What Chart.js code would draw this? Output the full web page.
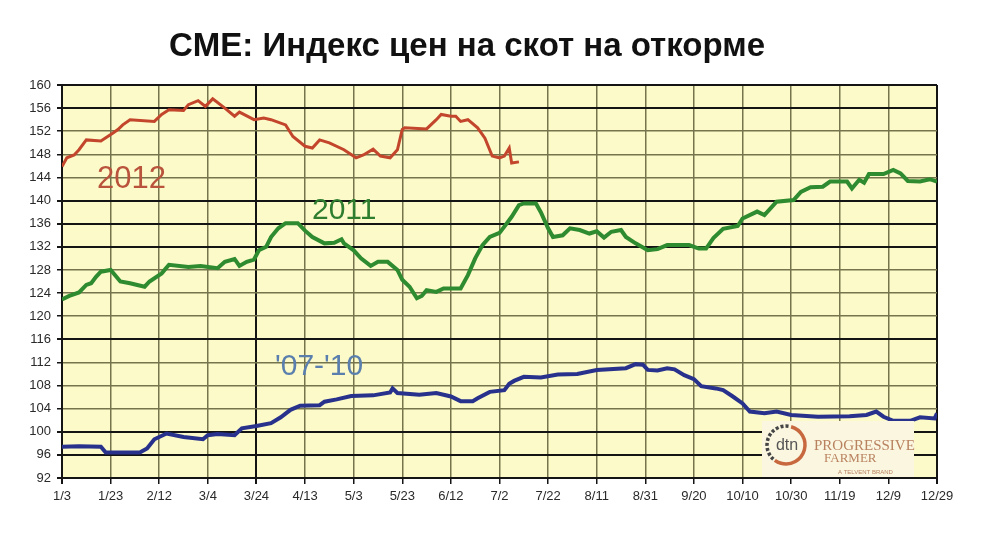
<!DOCTYPE html>
<html><head><meta charset="utf-8">
<script src="https://cdn.jsdelivr.net/npm/chart.js@4"></script>
<style>html,body{margin:0;padding:0;background:#fff;}</style>
</head><body>
<canvas id="c" width="990" height="550"></canvas>
<script>
const TITLE = 'CME: Индекс цен на скот на откорме';
const xTickLabels = ['1/3','1/23','2/12','3/4','3/24','4/13','5/3','5/23','6/12','7/2','7/22','8/11','8/31','9/20','10/10','10/30','11/19','12/9','12/29'];
const yTickValues = [92,96,100,104,108,112,116,120,124,128,132,136,140,144,148,152,156,160];
const seriesNames = ['2012','2011',"'07-'10"];

const days2012 = [0,2,5,7,10,16,21,23,25,28,38,41,44,50,52,56,59,62,67,71,73,79,83,86,92,95,100,103,106,110,116,121,124,128,131,135,138,140,141,150,154,156,160,162,164,167,171,174,177,180,182,184,185,188];
const vals2012 = [145.9,147.4,147.9,148.8,150.5,150.3,151.7,152.3,153.1,154.0,153.7,154.9,155.7,155.6,156.6,157.3,156.3,157.6,156.0,154.6,155.3,154.0,154.3,154.0,153.1,151.1,149.4,149.1,150.5,150.0,148.8,147.4,147.9,148.9,147.7,147.4,148.8,152.3,152.6,152.4,154.0,154.9,154.6,154.6,153.7,154.0,152.6,150.8,147.7,147.4,147.7,149.1,146.5,146.7];

const days2011 = [0,3,7,10,12,14,16,20,21,24,28,31,34,36,41,44,52,57,64,67,71,73,76,79,81,84,86,89,92,97,100,103,108,112,115,116,120,123,127,130,134,138,140,143,146,148,150,154,157,164,167,170,173,176,180,182,185,188,190,195,197,200,202,206,209,213,217,220,223,226,230,232,236,241,245,249,258,262,265,268,272,278,280,286,289,294,301,304,308,313,316,323,325,328,330,332,338,342,345,348,353,357,360];
const vals2011 = [122.9,123.5,124.1,125.4,125.7,126.8,127.7,128.0,127.5,126.0,125.7,125.4,125.1,126.0,127.4,128.9,128.5,128.7,128.3,129.4,129.9,128.7,129.4,129.8,131.4,132.0,133.7,135.2,136.1,136.1,134.8,133.7,132.6,132.7,133.3,132.6,131.4,130.0,128.7,129.4,129.4,128.0,126.3,125.1,123.1,123.5,124.5,124.2,124.8,124.8,127.1,130.0,132.3,133.7,134.4,135.5,137.2,139.2,139.5,139.5,138.0,135.2,133.7,134.0,135.2,134.9,134.3,134.7,133.6,134.6,134.9,133.7,132.6,131.4,131.6,132.3,132.3,131.7,131.7,133.5,135.1,135.6,136.9,138.1,137.5,139.8,140.1,141.5,142.3,142.4,143.3,143.3,142.1,143.6,143.1,144.6,144.6,145.3,144.7,143.4,143.3,143.7,143.3];

const daysAvg = [0,7,16,18,32,35,38,43,50,58,60,64,71,74,80,86,90,94,98,106,108,113,119,128,135,136,138,147,154,160,164,169,171,176,182,184,186,190,197,204,212,220,232,236,239,241,245,249,252,256,260,263,269,272,276,280,283,289,294,300,311,324,331,335,338,342,349,353,359,360];
const valsAvg = [97.4,97.5,97.4,96.4,96.4,97.1,98.7,99.7,99.1,98.7,99.4,99.6,99.4,100.6,101.0,101.5,102.5,103.8,104.5,104.6,105.2,105.6,106.2,106.3,106.8,107.5,106.7,106.4,106.7,106.1,105.3,105.3,105.8,106.9,107.2,108.3,108.8,109.5,109.4,109.9,110.0,110.7,111.0,111.7,111.6,110.7,110.6,111.0,110.8,109.8,109.1,107.9,107.5,107.2,106.1,104.9,103.5,103.2,103.5,102.9,102.6,102.7,102.9,103.5,102.6,101.9,101.9,102.5,102.3,103.2];

const toPts = (d, v) => d.map((x, i) => ({x: x, y: v[i]}));

const darkY = new Set([160,156,140,136,132,116,100,96,92]);
const darkX = new Set([0,80,360]);
const BLACK = '#141414', OLIVE = '#75744c';

const bgPlugin = {
  id: 'bg',
  beforeDraw(chart) {
    const {ctx, chartArea: a} = chart;
    ctx.save();
    ctx.fillStyle = '#ffffff';
    ctx.fillRect(0, 0, chart.width, chart.height);
    ctx.fillStyle = '#fcfac8';
    ctx.fillRect(a.left, a.top, a.right - a.left, a.bottom - a.top);
    ctx.restore();
  }
};

const textPlugin = {
  id: 'texts',
  afterDatasetsDraw(chart) {
    const ctx = chart.ctx;
    ctx.save();
    // logo
    ctx.fillStyle = '#faf6e0';
    ctx.fillRect(762, 421, 152, 56);
    ctx.strokeStyle = '#c8683e';
    ctx.lineWidth = 3.5;
    ctx.beginPath(); ctx.arc(786, 445, 19, -1.3, 2.2); ctx.stroke();
    ctx.strokeStyle = '#444';
    ctx.setLineDash([3, 2]);
    ctx.beginPath(); ctx.arc(786, 445, 19, 2.3, 4.9); ctx.stroke();
    ctx.setLineDash([]);
    ctx.fillStyle = '#555';
    ctx.font = '16px "Liberation Sans", Arial, sans-serif';
    ctx.textAlign = 'center'; ctx.textBaseline = 'middle';
    ctx.fillText('dtn', 787, 446);
    ctx.textAlign = 'left'; ctx.textBaseline = 'alphabetic';
    ctx.fillStyle = '#b9825f';
    ctx.font = '15px "Liberation Serif", serif';
    ctx.fillText('PROGRESSIVE', 814, 450);
    ctx.font = '13px "Liberation Serif", serif';
    ctx.fillText('FARMER', 824, 462);
    ctx.font = '6px "Liberation Sans", Arial, sans-serif';
    ctx.fillText('A TELVENT BRAND', 838, 474);

    // series labels
    ctx.font = '31px "Liberation Sans", Arial, sans-serif';
    ctx.fillStyle = '#b9533b';
    ctx.fillText(seriesNames[0], 97, 188);
    ctx.font = '30px "Liberation Sans", Arial, sans-serif';
    ctx.fillStyle = '#2f7d2f';
    ctx.fillText(seriesNames[1], 312, 219);
    ctx.fillStyle = '#5a7fae';
    ctx.fillText(seriesNames[2], 275, 375);

    // title
    ctx.fillStyle = '#111';
    ctx.font = 'bold 33px "Liberation Sans", Arial, sans-serif';
    ctx.textAlign = 'center'; ctx.textBaseline = 'middle';
    ctx.fillText(TITLE, 467, 47);
    ctx.restore();
  }
};

new Chart(document.getElementById('c'), {
  type: 'line',
  data: {
    datasets: [
      {label: seriesNames[0], data: toPts(days2012, vals2012), borderColor: '#c2452c', borderWidth: 3},
      {label: seriesNames[1], data: toPts(days2011, vals2011), borderColor: '#2f8b2f', borderWidth: 4},
      {label: seriesNames[2], data: toPts(daysAvg, valsAvg), borderColor: '#28328c', borderWidth: 4}
    ]
  },
  options: {
    responsive: false,
    animation: false,
    devicePixelRatio: 1,
    elements: {point: {radius: 0}, line: {tension: 0}},
    layout: {padding: {left: 0, top: 85, right: 53, bottom: 32}},
    plugins: {legend: {display: false}, title: {display: false}, tooltip: {enabled: false}},
    scales: {
      x: {
        type: 'linear', min: 0, max: 360,
        afterBuildTicks(s) { s.ticks = xTickLabels.map((_, i) => ({value: i * 20})); },
        afterFit(s) { s.height = 40; s.paddingLeft = 0; s.paddingRight = 0; },
        ticks: {
          autoSkip: false, maxRotation: 0, padding: 5,
          callback: (v) => xTickLabels[Math.round(v / 20)],
          color: '#2a2a2a', font: {family: '"Liberation Sans", Arial, sans-serif', size: 13}
        },
        grid: {
          color: (c) => darkX.has(c.tick && c.tick.value) ? BLACK : OLIVE,
          lineWidth: (c) => darkX.has(c.tick && c.tick.value) ? 2 : 1.5,
          tickColor: BLACK, tickLength: 6
        },
        border: {display: true, color: BLACK, width: 2}
      },
      y: {
        type: 'linear', min: 92, max: 160,
        afterBuildTicks(s) { s.ticks = yTickValues.map(v => ({value: v})); },
        afterFit(s) { s.width = 62; s.paddingTop = 0; s.paddingBottom = 0; },
        ticks: {
          padding: 6,
          callback: (v) => String(v),
          color: '#2a2a2a', font: {family: '"Liberation Sans", Arial, sans-serif', size: 13}
        },
        grid: {
          color: (c) => darkY.has(c.tick && c.tick.value) ? BLACK : OLIVE,
          lineWidth: (c) => darkY.has(c.tick && c.tick.value) ? 2 : 1.5,
          tickColor: BLACK, tickLength: 5
        },
        border: {display: true, color: BLACK, width: 2}
      }
    }
  },
  plugins: [bgPlugin, textPlugin]
});
</script>
</body></html>
